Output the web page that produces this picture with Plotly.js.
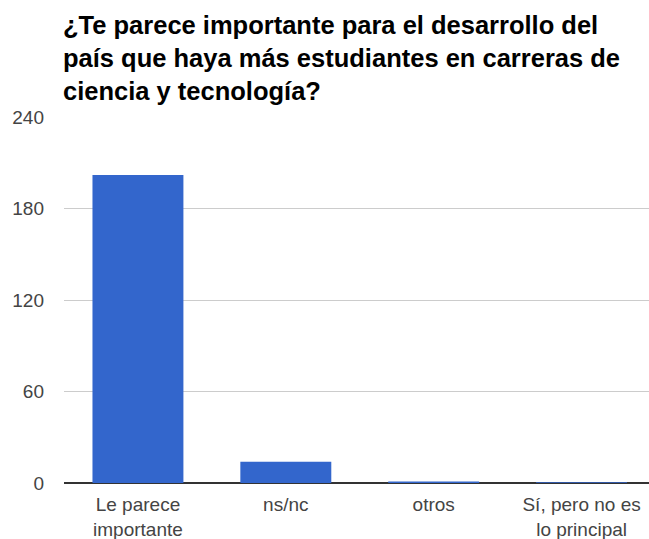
<!DOCTYPE html>
<html>
<head>
<meta charset="utf-8">
<script src="https://cdn.plot.ly/plotly-3.0.1.min.js"></script>
<style>html,body{margin:0;padding:0;background:#fff;}#chart{width:649px;height:539px;}</style>
</head>
<body>
<div id="chart"></div>
<script>
const categories = ["Le parece<br>importante", "ns/nc", "otros", "Sí, pero no es<br>lo principal"];
const values = [202, 14, 1, 0.5];
const yTicks = [0, 60, 120, 180, 240];
const titleText = "¿Te parece importante para el desarrollo del<br>país que haya más estudiantes en carreras de<br>ciencia y tecnología?";

const trace = {
  type: "bar",
  x: categories,
  y: values,
  marker: {color: "#3366cc"},
  hoverinfo: "x+y"
};

const layout = {
  width: 649,
  height: 539,
  margin: {l: 63.5, r: 0, t: 117.4, b: 56.3, pad: 0},
  paper_bgcolor: "#fff",
  plot_bgcolor: "#fff",
  font: {family: "'Liberation Sans', Arial, sans-serif", color: "#444", size: 19},
  title: {
    text: titleText,
    font: {family: "'Liberation Sans', Arial, sans-serif", size: 25.5, color: "#000", weight: "bold"},
    x: 63 / 649,
    xanchor: "left",
    xref: "container",
    y: 1 - 34 / 539,
    yanchor: "top",
    yref: "container"
  },
  bargap: 0.385,
  showlegend: false,
  xaxis: {
    type: "category",
    range: [-0.5, 3.456],
    showgrid: false,
    showline: false,
    zeroline: false,
    ticks: "",
    ticklabelstandoff: 8,
    tickfont: {size: 19, color: "#444"},
    fixedrange: true
  },
  yaxis: {
    range: [0, 240],
    tickvals: yTicks,
    ticktext: yTicks.map(String),
    showgrid: true,
    gridcolor: "#cccccc",
    gridwidth: 1,
    zeroline: true,
    zerolinecolor: "#333333",
    zerolinewidth: 1.5,
    showline: false,
    ticks: "",
    ticklabelstandoff: 19,
    tickfont: {size: 19, color: "#444"},
    fixedrange: true
  }
};

Plotly.newPlot("chart", [trace], layout, {displayModeBar: false, staticPlot: true});
</script>
</body>
</html>
